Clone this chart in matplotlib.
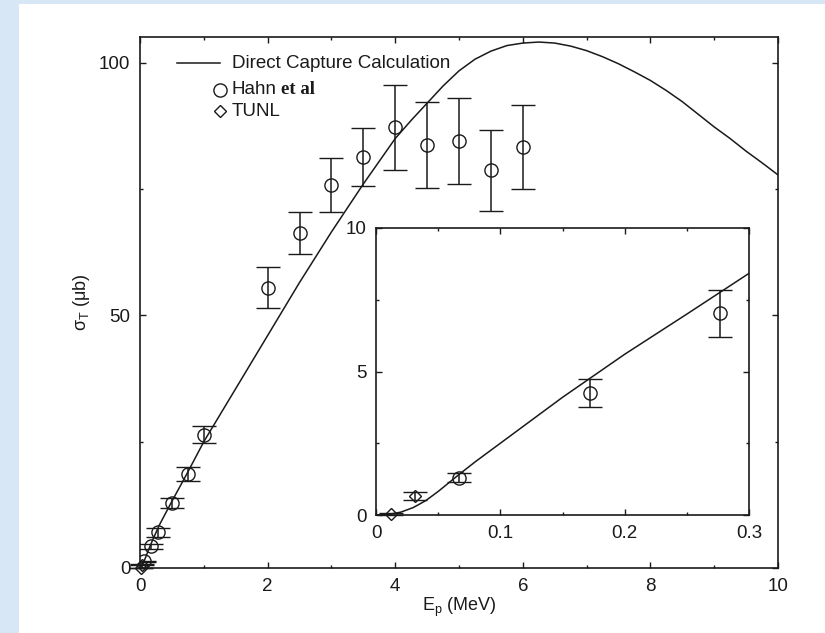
import numpy as np
import matplotlib
matplotlib.use('Agg')
from matplotlib import pyplot as plt
from matplotlib.patches import Rectangle
from matplotlib.ticker import MultipleLocator, FuncFormatter

# direct capture calculation
calc_e = [0, 0.01, 0.02, 0.03, 0.04, 0.05, 0.067, 0.08, 0.1, 0.15, 0.2, 0.25, 0.3,
          0.5, 0.75, 1.0, 1.5, 2.0, 2.5, 3.0, 3.5, 4.0, 4.25, 4.5, 4.75, 5.0, 5.25,
          5.5, 5.75, 6.0, 6.25, 6.5, 6.75, 7.0, 7.25, 7.5, 7.75, 8.0, 8.25, 8.5,
          8.75, 9.0, 9.25, 9.5, 9.75, 10.0]
calc_sigma = [0, 0.02, 0.1, 0.26, 0.5, 0.82, 1.42, 1.86, 2.5, 4.1, 5.6, 7.0, 8.42,
              13.2, 19.0, 25.0, 35.5, 46.0, 56.5, 66.5, 76.0, 85.0, 88.6, 92.0, 95.4, 98.4, 100.7,
              102.3, 103.4, 103.9, 104.1, 103.9, 103.3, 102.4, 101.2, 99.8, 98.2, 96.5, 94.5, 92.3,
              89.8, 87.3, 85.0, 82.5, 80.2, 77.8]

# Hahn et al
hahn_e = [0.067, 0.172, 0.277, 0.5, 0.75, 1.0, 2.0, 2.5, 3.0, 3.5, 4.0, 4.5, 5.0, 5.5, 6.0]
hahn_sigma = [1.30, 4.26, 7.03, 12.9, 18.6, 26.4, 55.5, 66.3, 75.8, 81.4, 87.2, 83.8, 84.6, 78.7, 83.4]
hahn_err = [0.16, 0.48, 0.82, 1.05, 1.45, 1.75, 4.0, 4.2, 5.4, 5.7, 8.4, 8.5, 8.5, 7.95, 8.3]

# TUNL
tunl_e = [0.012, 0.031]
tunl_sigma = [0.03, 0.66]
tunl_err = [0.03, 0.15]

plt.rcParams['font.family'] = ['Liberation Sans', 'DejaVu Sans']
plt.rcParams['mathtext.fontset'] = 'custom'
plt.rcParams['mathtext.rm'] = 'Liberation Sans'
plt.rcParams['mathtext.it'] = 'Liberation Sans:italic'
ink = '#1a1a1a'

fig = plt.figure(figsize=(8.25, 6.33), dpi=100, facecolor='#d8e7f5')
fig.add_artist(Rectangle((19 / 825, 0), 1 - 19 / 825, 1 - 4 / 633,
                         transform=fig.transFigure, facecolor='white',
                         edgecolor='none', zorder=-5))

ax = fig.add_axes([140 / 825, 1 - 568 / 633, 638 / 825, 531 / 633])
ins = fig.add_axes([376 / 825, 1 - 515 / 633, 373 / 825, 287 / 633])


def draw(a):
    a.plot(calc_e, calc_sigma, color=ink, lw=1.1)
    a.errorbar(hahn_e, hahn_sigma, yerr=hahn_err, fmt='o', ms=9.5, mfc='none',
               mec=ink, mew=1.0, ecolor=ink, elinewidth=1.1, capsize=8.6, capthick=1.1)
    tu = a.errorbar(tunl_e, tunl_sigma, yerr=tunl_err, fmt='D', ms=6.3, mfc='none',
                    mec=ink, mew=1.0, ecolor=ink, elinewidth=1.1, capsize=8.6, capthick=2.0)
    # diamonds sit on the axis, let them hang over it
    for art in [tu[0], *tu[1], *tu[2]]:
        art.set_clip_on(False)
    a.tick_params(which='both', direction='in', top=True, right=True,
                  colors=ink, labelsize=13.5, width=1.0)
    a.tick_params(which='major', length=4.5, pad=7)
    a.tick_params(which='minor', length=2.3)
    for s in a.spines.values():
        s.set_linewidth(1.2)
        s.set_color(ink)


draw(ax)
ax.set_xlim(0, 10)
ax.set_ylim(0, 105.1)
ax.xaxis.set_major_locator(MultipleLocator(2))
ax.xaxis.set_minor_locator(MultipleLocator(1))
ax.yaxis.set_major_locator(MultipleLocator(50))
ax.yaxis.set_minor_locator(MultipleLocator(25))
ax.set_xlabel(r'E$_\mathrm{p}$ (MeV)', fontsize=13, color=ink, labelpad=1)
ax.set_ylabel(r'σ$_\mathrm{T}$ (μb)', fontsize=13, color=ink, labelpad=5)

draw(ins)
ins.set_xlim(0, 0.3)
ins.set_ylim(0, 10)
ins.xaxis.set_major_locator(MultipleLocator(0.1))
ins.xaxis.set_minor_locator(MultipleLocator(0.05))
ins.yaxis.set_major_locator(MultipleLocator(5))
ins.yaxis.set_minor_locator(MultipleLocator(2.5))
ins.xaxis.set_major_formatter(FuncFormatter(lambda v, p: f'{v:g}'))

# legend, gnuplot style
ax.plot([0.058, 0.1254], [0.9505, 0.9505], color=ink, lw=1.1, transform=ax.transAxes)
ax.text(0.1442, 0.9505, 'Direct Capture Calculation', transform=ax.transAxes,
        fontsize=13.5, color=ink, va='center')
ax.plot([0.1254], [0.9011], 'o', ms=9.5, mfc='none', mec=ink, mew=1.0, transform=ax.transAxes)
t = ax.text(0.1442, 0.9011, 'Hahn', transform=ax.transAxes,
            fontsize=13.5, color=ink, va='center')
ax.annotate('et al', xy=(1, 0.5), xycoords=t, xytext=(3, 0), textcoords='offset points',
            va='center', fontsize=13.5, color=ink, family='Liberation Serif', weight='bold')
ax.plot([0.1254], [0.8597], 'D', ms=6.3, mfc='none', mec=ink, mew=1.0, transform=ax.transAxes)
ax.text(0.1442, 0.8597, 'TUNL', transform=ax.transAxes,
        fontsize=13.5, color=ink, va='center')

plt.savefig('out.png', dpi=100, facecolor=fig.get_facecolor())
